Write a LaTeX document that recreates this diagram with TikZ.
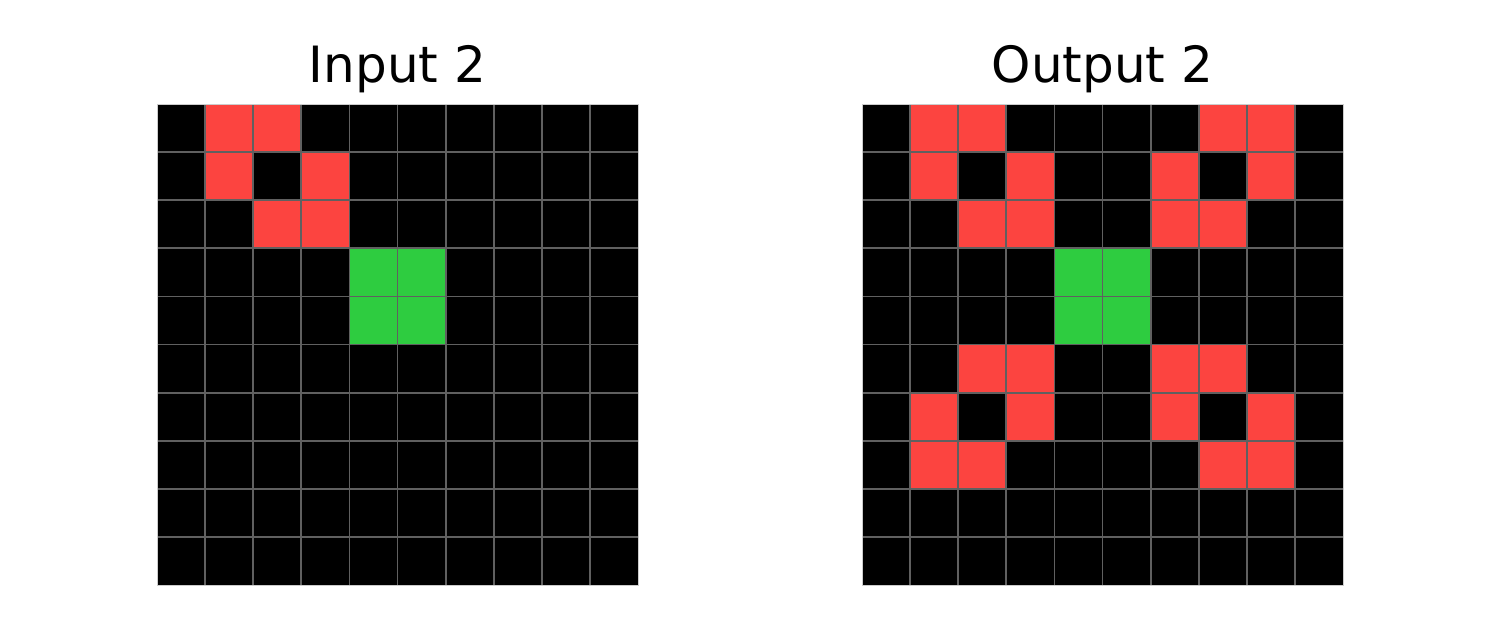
\documentclass[tikz,border=0pt]{standalone}
\usepackage{fontspec}
\setmainfont{DejaVu Sans}
\definecolor{arcred}{HTML}{FC4440}
\definecolor{arcgreen}{HTML}{2ECC40}
\definecolor{gridgray}{HTML}{606060}
\begin{document}
\begin{tikzpicture}[x=0.5pt,y=-0.5pt,
  title/.style={anchor=base,inner sep=0pt,font=\fontsize{25}{30}\selectfont},
  gridline/.style={draw=gridgray,line width=0.9pt},
  frame/.style={draw=gray!40,line width=0.4pt}]
\useasboundingbox (0,0) rectangle (1500,629);
\fill[white] (0,0) rectangle (1500,629);
% titles
\node[title] (tin) at (397.5,82) {Input 2};
\node[title] (tout) at (1102.5,82) {Output 2};
% left grid
\fill[black] (157,104) rectangle (638,585);
\foreach \r/\c/\col in {0/1/arcred,0/2/arcred,1/1/arcred,1/3/arcred,2/2/arcred,2/3/arcred,
  3/4/arcgreen,3/5/arcgreen,4/4/arcgreen,4/5/arcgreen}
  \fill[\col] ({157+\c*48.1},{104+\r*48.1}) rectangle ++(48.1,48.1);
\foreach \i in {1,...,9}{
  \draw[gridline] ({157+\i*48.1},104) -- ++(0,481);
  \draw[gridline] (157,{104+\i*48.1}) -- ++(481,0);
}
\draw[frame] (157,104) rectangle (638,585);
% right grid
\fill[black] (862,104) rectangle (1343,585);
\foreach \r/\c/\col in {0/1/arcred,0/2/arcred,0/7/arcred,0/8/arcred,
  1/1/arcred,1/3/arcred,1/6/arcred,1/8/arcred,
  2/2/arcred,2/3/arcred,2/6/arcred,2/7/arcred,
  3/4/arcgreen,3/5/arcgreen,4/4/arcgreen,4/5/arcgreen,
  5/2/arcred,5/3/arcred,5/6/arcred,5/7/arcred,
  6/1/arcred,6/3/arcred,6/6/arcred,6/8/arcred,
  7/1/arcred,7/2/arcred,7/7/arcred,7/8/arcred}
  \fill[\col] ({862+\c*48.1},{104+\r*48.1}) rectangle ++(48.1,48.1);
\foreach \i in {1,...,9}{
  \draw[gridline] ({862+\i*48.1},104) -- ++(0,481);
  \draw[gridline] (862,{104+\i*48.1}) -- ++(481,0);
}
\draw[frame] (862,104) rectangle (1343,585);
\end{tikzpicture}
\end{document}
